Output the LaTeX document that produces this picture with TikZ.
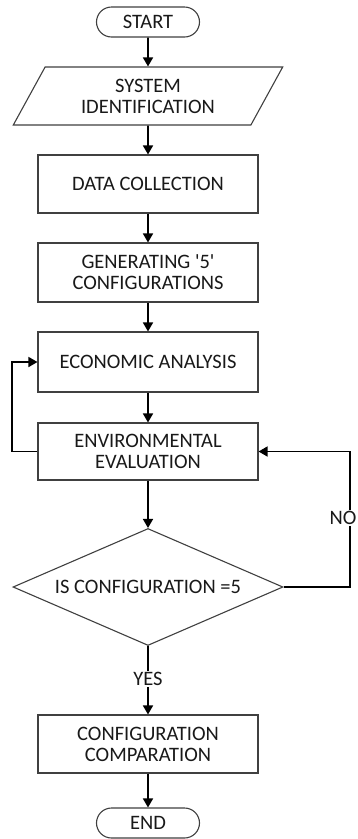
\documentclass[tikz,border=0pt]{standalone}
\usepackage{fontspec}
\setmainfont{Carlito}
\usetikzlibrary{shapes.geometric,shapes.misc,arrows.meta}
\begin{document}
\begin{tikzpicture}[x=1pt,y=-1pt,
  every node/.style={font=\fontsize{20.5}{21}\selectfont, text=black!90, align=center},
  boxst/.style={draw=black!75, line width=1.1pt, rectangle, minimum width=220pt, inner sep=0pt},
  termst/.style={draw=black!75, line width=1.1pt, rounded rectangle, minimum width=103pt, minimum height=30pt, inner sep=0pt},
  arr/.style={draw=black, line width=1.6pt, -{Triangle[length=9pt,width=10pt]}},
  lbl/.style={fill=white, inner sep=1pt}]
\clip (0,0) rectangle (358,839);
\fill[white] (0,0) rectangle (358,839);
\node[termst] (start) at (148,22) {START};
\node[draw=black!75, line width=1.1pt, trapezium, trapezium left angle=59, trapezium right angle=121,
  trapezium stretches=true, minimum width=270pt, minimum height=58pt, inner sep=0pt] (sys) at (148,96) {SYSTEM\\IDENTIFICATION};
\node[boxst, minimum height=58pt] (data) at (148,184) {DATA COLLECTION};
\node[boxst, minimum height=59pt] (gen) at (148,272.5) {GENERATING \textquotesingle 5\textquotesingle\\CONFIGURATIONS};
\node[boxst, minimum height=60pt] (econ) at (148,362) {ECONOMIC ANALYSIS};
\node[boxst, minimum height=57pt] (env) at (148,451.5) {ENVIRONMENTAL\\EVALUATION};
\node[draw=black!75, line width=1.1pt, diamond, minimum width=270pt, minimum height=117pt, inner sep=0pt, aspect=2.3] (dec) at (148,587) {IS CONFIGURATION =5};
\node[boxst, minimum height=58pt] (conf) at (148,744) {CONFIGURATION\\COMPARATION};
\node[termst] (end) at (148,823) {END};
\coordinate (lx) at (12,0);
\coordinate (rx) at (350,0);
\draw[arr] (start) -- (sys);
\draw[arr] (sys) -- (data);
\draw[arr] (data) -- (gen);
\draw[arr] (gen) -- (econ);
\draw[arr] (econ) -- (env);
\draw[arr] (env) -- (dec);
\draw[arr] (env.west) -- (env.west -| lx) |- (econ.west);
\draw[arr] (dec.east) -| (rx |- env.east) -- (env.east);
\node[lbl] (no) at (343,518) {NO};
\draw[arr] (dec) -- (conf);
\node[lbl] (yes) at (148,679) {YES};
\draw[arr] (conf) -- (end);
\end{tikzpicture}
\end{document}
